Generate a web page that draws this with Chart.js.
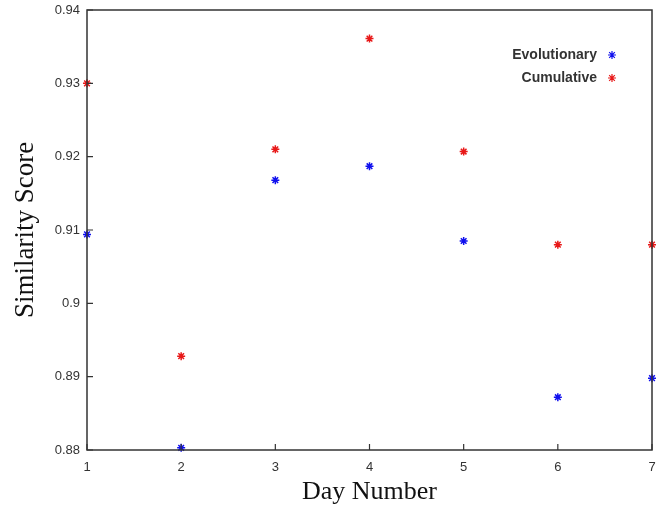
<!DOCTYPE html>
<html><head><meta charset="utf-8">
<script src="https://cdn.jsdelivr.net/npm/chart.js@4/dist/chart.umd.min.js"></script>
<style>html,body{margin:0;padding:0;background:#fff}#wrap{width:667px;height:512px}</style>
</head><body><div id="wrap"><canvas id="c"></canvas></div>
<script>
const days = [1, 2, 3, 4, 5, 6, 7];
const evolutionary = [0.9094, 0.8803, 0.9168, 0.9187, 0.9085, 0.8872, 0.8898];
const cumulative = [0.9300, 0.8928, 0.9210, 0.9361, 0.9207, 0.9080, 0.9080];
const seriesNames = ['Evolutionary', 'Cumulative'];
const yTicks = [0.88, 0.89, 0.9, 0.91, 0.92, 0.93, 0.94];

const pts = arr => days.map((d, i) => ({x: d, y: arr[i]}));

const frame = {
  id: 'frame',
  afterDatasetsDraw(chart) {
    const {ctx, chartArea: a, scales} = chart;
    ctx.save();
    ctx.strokeStyle = '#333';
    ctx.lineWidth = 1.5;
    ctx.strokeRect(a.left, a.top, a.right - a.left, a.bottom - a.top);
    ctx.lineWidth = 1.2;
    ctx.beginPath();
    scales.x.ticks.forEach(t => {
      const px = scales.x.getPixelForValue(t.value);
      ctx.moveTo(px, a.bottom); ctx.lineTo(px, a.bottom - 6);
    });
    scales.y.ticks.forEach(t => {
      const py = scales.y.getPixelForValue(t.value);
      ctx.moveTo(a.left, py); ctx.lineTo(a.left + 6, py);
    });
    ctx.stroke();
    // legend
    ctx.font = 'bold 14px "Liberation Sans", Arial, sans-serif';
    ctx.fillStyle = '#333';
    ctx.textAlign = 'right';
    ctx.textBaseline = 'middle';
    const colors = ['#1010ee', '#e81818'];
    seriesNames.forEach((n, i) => {
      const y = a.top + 45 + i * 23;
      ctx.fillText(n, a.right - 55, y);
      ctx.strokeStyle = colors[i];
      ctx.fillStyle = '#333';
      Chart.helpers.drawPoint(ctx, {pointStyle: 'star', radius: 4, rotation: 0, borderWidth: 1.5}, a.right - 40, y);
    });
    ctx.restore();
  }
};

new Chart(document.getElementById('c'), {
  type: 'scatter',
  data: {
    datasets: [
      {label: seriesNames[0], data: pts(evolutionary), pointStyle: 'star', radius: 4, borderColor: '#1010ee', backgroundColor: '#1010ee', borderWidth: 1.5, clip: false},
      {label: seriesNames[1], data: pts(cumulative), pointStyle: 'star', radius: 4, borderColor: '#e81818', backgroundColor: '#e81818', borderWidth: 1.5, clip: false}
    ]
  },
  options: {
    responsive: true, maintainAspectRatio: false, animation: false,
    layout: {padding: {top: 10, right: 15, left: 10, bottom: 0}},
    plugins: {legend: {display: false}, tooltip: {enabled: false}},
    scales: {
      x: {
        type: 'linear', min: 1, max: 7,
        ticks: {stepSize: 1, color: '#333', font: {family: '"Liberation Sans", Arial, sans-serif', size: 13}, padding: 10},
        grid: {display: false, drawTicks: false},
        border: {display: false},
        title: {display: true, text: 'Day Number', color: '#111', font: {family: '"Liberation Serif", "Times New Roman", serif', size: 26}, padding: {top: 6, bottom: 4}},
        afterFit(s) { s.height = 62; }
      },
      y: {
        min: 0.88, max: 0.94,
        afterBuildTicks(s) { s.ticks = yTicks.map(v => ({value: v})); },
        ticks: {color: '#333', font: {family: '"Liberation Sans", Arial, sans-serif', size: 13}, padding: 7,
          callback: v => String(Number(v.toFixed(2)))},
        grid: {display: false, drawTicks: false},
        border: {display: false},
        title: {display: true, text: 'Similarity Score', color: '#111', font: {family: '"Liberation Serif", "Times New Roman", serif', size: 27}, padding: {top: 0, bottom: 8}},
        afterFit(s) { s.width = 77; s.paddingTop = 0; s.paddingBottom = 0; }
      }
    }
  },
  plugins: [frame]
});
</script></body></html>
